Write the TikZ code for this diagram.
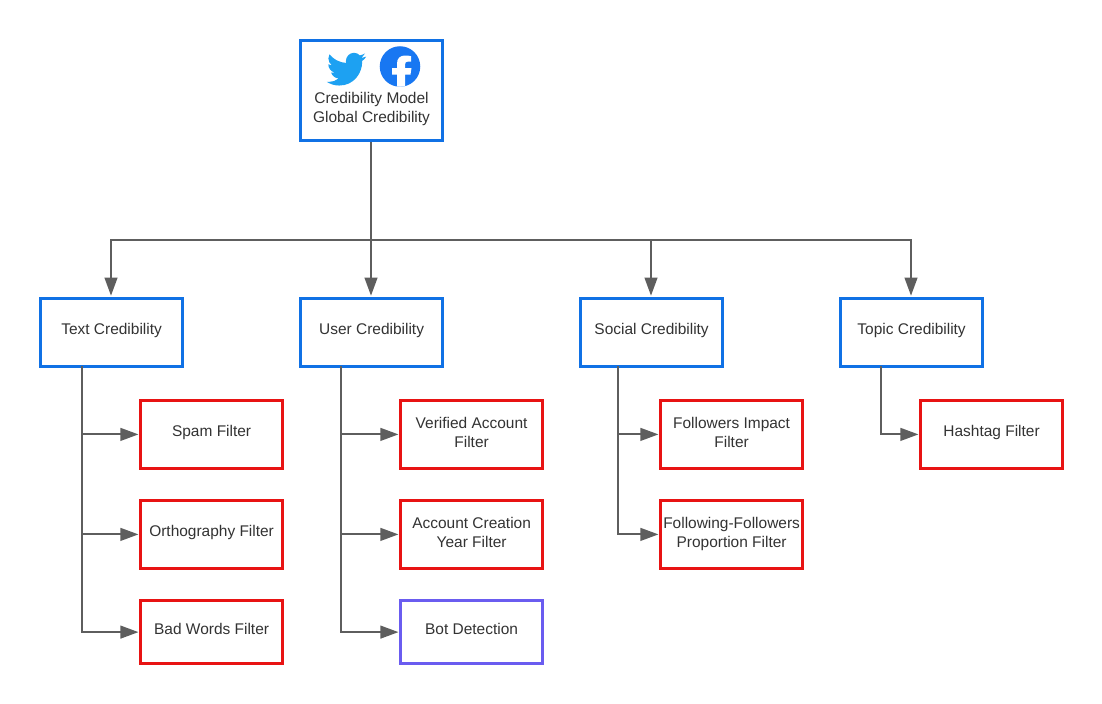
\documentclass[tikz,border=0pt]{standalone}
\usepackage{fontspec}
\setmainfont{Liberation Sans}
\usetikzlibrary{arrows.meta,calc}
\definecolor{boxblue}{HTML}{1071E5}
\definecolor{boxred}{HTML}{E81313}
\definecolor{boxviolet}{HTML}{6A5CF0}
\definecolor{linkgray}{HTML}{5E5E5E}
\definecolor{txtgray}{HTML}{333333}
\definecolor{twblue}{HTML}{1DA1F2}
\definecolor{fbblue}{HTML}{1877F2}
\tikzset{
  x=0.75pt,y=-0.75pt,
  labelfont/.style={font=\fontsize{11.6}{14.2}\selectfont,text=txtgray,align=center},
  nodebox/.style={draw,line width=2.25pt,fill=white,inner sep=0pt,minimum width=106.25pt,rectangle,labelfont},
  bluebox/.style={nodebox,draw=boxblue},
  redbox/.style={nodebox,draw=boxred},
  violetbox/.style={nodebox,draw=boxviolet},
  upper/.style={minimum height=51pt},
  tall/.style={minimum height=50.75pt},
  short/.style={minimum height=47.25pt},
  lift/.style={text depth=4.9pt},
  liftpair/.style={text depth=3pt},
  link/.style={draw=linkgray,line width=1.5pt},
  arrowlink/.style={link,-{Triangle[length=13.5pt,width=9.5pt,fill=linkgray]},shorten >=0.6pt},
}
\begin{document}
\begin{tikzpicture}
\useasboundingbox[fill=white] (0,0) rectangle (1102,703);
% top box
\node[bluebox,minimum height=75pt] (root) at (371.6,90.5) {};
\node[labelfont,inner sep=0pt] (rootlabel) at (371.5,108.8) {Credibility Model\\Global Credibility};
% twitter bird
\begin{scope}[shift={(326.8,49)},x=1.23pt,y=-1.26pt]
\fill[twblue] (23.953,4.57) -- (21.128,5.345) -- (23.291,2.622)
 .. controls (22.34,3.177) and (21.286,3.581) .. (20.164,3.806)
 .. controls (19.2,2.85) and (17.95,2.26) .. (16.57,2.26)
 .. controls (13.85,2.26) and (11.65,4.46) .. (11.65,7.18)
 .. controls (11.65,7.55) and (11.7,7.93) .. (11.78,8.288)
 .. controls (7.69,8.095) and (4.067,6.13) .. (1.64,3.162)
 .. controls (1.2,3.9) and (0.974,4.75) .. (0.974,5.637)
 .. controls (0.974,7.347) and (1.844,8.85) .. (3.162,9.733)
 -- (0.934,9.117) -- (0.934,9.177)
 .. controls (0.934,11.5) and (2.6,13.55) .. (4.88,14.004)
 -- (2.668,14.089)
 .. controls (3.3,16.0) and (5.1,17.45) .. (7.272,17.506)
 .. controls (5.5,18.9) and (3.4,19.611) .. (1.17,19.611)
 .. controls (0.78,19.611) and (0.391,19.588) .. (0,19.544)
 .. controls (2.2,20.95) and (4.8,21.753) .. (7.557,21.753)
 .. controls (16.61,21.753) and (21.555,14.257) .. (21.555,7.768)
 .. controls (21.555,7.558) and (21.555,7.348) .. (21.54,7.138)
 .. controls (22.5,6.45) and (23.35,5.6) .. (24,4.59) -- cycle;
\end{scope}
% facebook logo
\fill[fbblue] (400,66.5) circle[radius=15.2pt];
\begin{scope}
\clip (400,66.5) circle[radius=15.2pt];
\fill[white] (397,88) -- (397,74.5) -- (392,74.5) -- (392,68) -- (397,68) -- (397,63.5)
 .. controls (397,58.5) and (400,55.5) .. (405,55.5) .. controls (407.5,55.5) and (409.5,55.8) .. (411,56.2)
 -- (411,61.5) -- (408,61.5) .. controls (406,61.5) and (405,62.5) .. (405,64.5)
 -- (405,68) -- (411.5,68) -- (410.5,74.5) -- (405,74.5) -- (405,88) -- cycle;
\end{scope}
% second level
\node[bluebox,upper,lift] (text) at (111.6,332) {Text Credibility};
\node[bluebox,upper,lift] (user) at (371.6,332) {User Credibility};
\node[bluebox,upper,lift] (social) at (651.6,332) {Social Credibility};
\node[bluebox,upper,lift] (topic) at (911.6,332) {Topic Credibility};
% filters
\node[redbox,tall,lift] (spam) at (211.6,434.4) {Spam Filter};
\node[redbox,tall,lift] (ortho) at (211.6,534.4) {Orthography Filter};
\node[redbox,short,lift] (bad) at (211.6,632.1) {Bad Words Filter};
\node[redbox,tall,liftpair] (verified) at (471.6,434.4) {Verified Account\\Filter};
\node[redbox,tall,liftpair] (creation) at (471.6,534.4) {Account Creation\\Year Filter};
\node[violetbox,short,lift] (bot) at (471.6,632.1) {Bot Detection};
\node[redbox,tall,liftpair] (impact) at (731.6,434.4) {Followers Impact\\Filter};
\node[redbox,tall,liftpair] (proportion) at (731.6,534.4) {Following-Followers\\Proportion Filter};
\node[redbox,tall,lift] (hashtag) at (991.6,434.4) {Hashtag Filter};
% trunks
\coordinate (junction) at (371,240);
\coordinate (ttop) at (82,366);
\coordinate (utop) at (341,366);
\coordinate (stop) at (618,366);
\coordinate (htop) at (881,366);
\coordinate (tdrop) at (111,240);
\coordinate (sdrop) at (651,240);
\coordinate (hdrop) at (911,240);
% links from root
\draw[link] (junction |- root.south) -- (junction);
\draw[arrowlink] (junction) -- (tdrop) -- (tdrop |- text.north);
\draw[arrowlink] (junction) -- (junction |- user.north);
\draw[arrowlink] (junction) -- (sdrop) -- (sdrop |- social.north);
\draw[arrowlink] (junction) -- (hdrop) -- (hdrop |- topic.north);
% links to filters
\foreach \from/\to in {ttop/spam,ttop/ortho,ttop/bad,utop/verified,utop/creation,utop/bot,stop/impact,stop/proportion,htop/hashtag}
  \draw[arrowlink] (\from) |- (\to.west);
\end{tikzpicture}
\end{document}
